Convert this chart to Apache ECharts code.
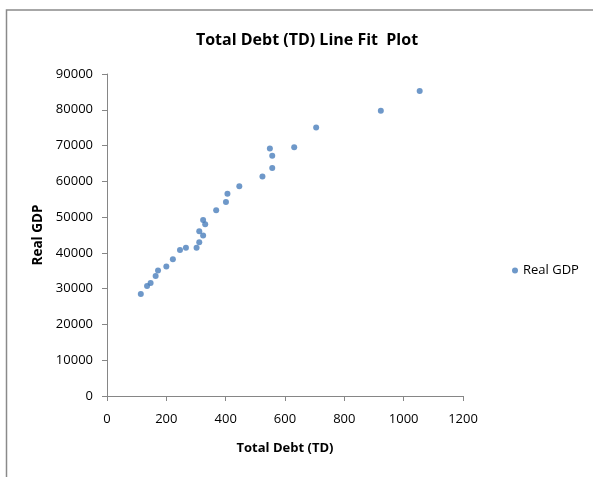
<!DOCTYPE html>
<html><head><meta charset="utf-8">
<script src="https://cdn.jsdelivr.net/npm/echarts@6/dist/echarts.min.js"></script>
<style>html,body{margin:0;padding:0;background:#fff}#c{width:593px;height:477px}</style>
</head><body><div id="c"></div>
<script>
const totalDebt = [114,135,147,164,172,200,222,246,266,302,311,324,311,331,324,368,401,406,446,524,557,557,549,631,705,923,1054];
const realGDP = [28500,30740,31580,33540,35110,36230,38190,40800,41440,41440,42950,44860,46060,47990,49200,51910,54240,56560,58630,61320,63760,67120,69160,69550,75040,79720,85230];
const seriesName = 'Real GDP';
const titleText = 'Total Debt (TD) Line Fit  Plot';
const xAxisName = 'Total Debt (TD)';
const yAxisName = 'Real GDP';

const font = '"Open Sans", sans-serif';
const chart = echarts.init(document.getElementById('c'), null, {renderer:'canvas'});
chart.setOption({
  animation:false,
  backgroundColor:'#fff',
  graphic:[{type:'rect', shape:{x:6.5,y:10,width:700,height:600}, style:{fill:'none',stroke:'#8a8a8a',lineWidth:1.5}, silent:true}],
  title:{text:titleText,left:302,top:27,textAlign:'center',textStyle:{fontFamily:font,fontSize:16,fontWeight:'bold',color:'#000'}},
  legend:{data:[{name:seriesName,icon:'circle'}],left:507,top:259,itemWidth:6,itemHeight:6,itemGap:5,textStyle:{fontFamily:font,fontSize:13,color:'#000'}},
  grid:{left:107,right:130,top:74,bottom:81},
  xAxis:{type:'value',min:0,max:1200,interval:200,name:xAxisName,nameLocation:'middle',nameGap:46,
    nameTextStyle:{fontFamily:font,fontSize:13,fontWeight:'bold',color:'#000'},
    axisLine:{show:true,lineStyle:{color:'#868686'}},axisTick:{show:true,length:5,lineStyle:{color:'#868686'}},
    axisLabel:{fontFamily:font,fontSize:13,color:'#000',margin:17,formatter:v=>String(v)},splitLine:{show:false}},
  yAxis:{type:'value',min:0,max:90000,interval:10000,name:yAxisName,nameLocation:'middle',nameGap:62,nameRotate:90,
    nameTextStyle:{fontFamily:font,fontSize:13.5,fontWeight:'bold',color:'#000'},
    axisLine:{show:true,lineStyle:{color:'#868686'}},axisTick:{show:true,length:5,lineStyle:{color:'#868686'}},
    axisLabel:{fontFamily:font,fontSize:13,color:'#000',margin:14,formatter:v=>String(v)},splitLine:{show:false}},
  series:[{name:seriesName,type:'scatter',symbol:'circle',symbolSize:6,itemStyle:{color:'#4a7ebb'},
    data:totalDebt.map((x,i)=>[x,realGDP[i]])}]
});
</script></body></html>
